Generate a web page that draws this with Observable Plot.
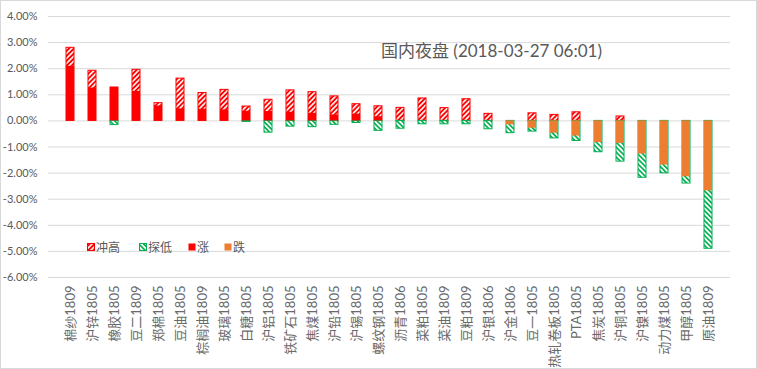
<!DOCTYPE html>
<html>
<head>
<meta charset="utf-8">
<script src="https://cdn.jsdelivr.net/npm/d3@7"></script>
<script src="https://cdn.jsdelivr.net/npm/@observablehq/plot@0.6"></script>
<style>
  html, body { margin: 0; padding: 0; background: #fff; }
  #wrap { position: relative; width: 757px; height: 369px; overflow: hidden; font-family: Lato, "Noto Sans CJK SC", sans-serif; }
  #frame { position: absolute; left: 0; top: 0; width: 755px; height: 367px; border: 1px solid #d9d9d9; pointer-events: none; }
  #chart { position: absolute; left: 0; top: 0; }
  #title { position: absolute; left: 381px; top: 37px; font-size: 17px; color: #595959; white-space: nowrap; }
  #legend { position: absolute; left: 87px; top: 238px; font-size: 12px; color: #595959; white-space: nowrap; display: flex; align-items: center; }
  #legend span.item { display: inline-flex; align-items: center; }
  #legend svg { margin-right: 1px; }
</style>
</head>
<body>
<div id="wrap">
  <div id="chart"></div>
  <div id="title">国内夜盘 (2018-03-27 06:01)</div>
  <div id="legend"></div>
  <div id="frame"></div>
</div>
<script>
// Categories
const names = ["棉纱1809","沪锌1805","橡胶1805","豆二1809","郑棉1805","豆油1805","棕榈油1809","玻璃1805","白糖1805","沪铝1805",
  "铁矿石1805","焦煤1805","沪铅1805","沪锡1805","螺纹钢1805","沥青1806","菜粕1805","菜油1809","豆粕1809","沪银1806",
  "沪金1806","豆一1805","热轧卷板1805","PTA1805","焦炭1805","沪铜1805","沪镍1805","动力煤1805","甲醇1805","原油1809"];
// 冲高 (intraday high, %)
const highs = [2.80,1.92,1.28,1.96,0.68,1.62,1.07,1.19,0.55,0.81,
  1.17,1.10,0.94,0.64,0.56,0.50,0.86,0.49,0.83,0.27,
  0,0.29,0.23,0.33,0,0.17,0,0,0,0];
// 收盘涨跌 (close change, %)
const closes = [2.09,1.26,1.28,1.13,0.57,0.46,0.45,0.42,0.37,0.36,
  0.33,0.29,0.23,0.26,0.16,0,0,0,0,0,
  -0.15,-0.28,-0.47,-0.58,-0.83,-0.86,-1.27,-1.69,-2.14,-2.68];
// 探低 (intraday low, %)
const lows = [0,0,-0.16,0,0,0,0,0,-0.04,-0.45,
  -0.22,-0.24,-0.15,-0.08,-0.38,-0.30,-0.13,-0.13,-0.13,-0.32,
  -0.47,-0.41,-0.67,-0.77,-1.20,-1.56,-2.18,-2.01,-2.40,-4.90];
// Y tick values
const yTicks = [4,3,2,1,0,-1,-2,-3,-4,-5,-6];
// Legend labels
const legendLabels = ["冲高","探低","涨","跌"];

const RED = "#ff0000", GREEN = "#00b050", ORANGE = "#ed7d31", GRID = "#d9d9d9", TEXT = "#595959";

const data = names.map((name, i) => ({name, high: highs[i], close: closes[i], low: lows[i]}));

const plot = Plot.plot({
  width: 757,
  height: 369,
  marginLeft: 48,
  marginRight: 27,
  marginTop: 16,
  marginBottom: 92,
  style: {color: TEXT, background: "transparent", fontFamily: 'Lato, "Noto Sans CJK SC", sans-serif'},
  x: {type: "band", domain: names, padding: 0.63, label: null},
  y: {domain: [-6, 4], label: null},
  marks: [
    Plot.ruleY(yTicks, {stroke: GRID, strokeWidth: 1}),
    Plot.axisY(yTicks, {tickSize: 0, tickPadding: 11, fontSize: 11, tickFormat: d => d.toFixed(2) + "%", label: null}),
    Plot.axisX({tickSize: 0, tickPadding: 8, tickRotate: -90, fontSize: 13, fill: "#6a6a6a", label: null}),
    Plot.rectY(data.filter(d => d.high > 0), {x: "name", y1: 0, y2: "high", fill: "url(#hatchRed)", stroke: RED, strokeWidth: 1}),
    Plot.rectY(data.filter(d => d.low < 0), {x: "name", y1: 0, y2: "low", fill: "url(#hatchGreen)", stroke: GREEN, strokeWidth: 1}),
    Plot.rectY(data.filter(d => d.close > 0), {x: "name", y1: 0, y2: "close", fill: RED}),
    Plot.rectY(data.filter(d => d.close < 0), {x: "name", y1: 0, y2: "close", fill: ORANGE})
  ]
});

const defsHTML = `
  <pattern id="hatchRed" patternUnits="userSpaceOnUse" width="3.5" height="3.5" patternTransform="rotate(45)">
    <rect width="3.5" height="3.5" fill="${RED}"/>
    <rect x="0" width="1.6" height="3.5" fill="#ffffff"/>
  </pattern>
  <pattern id="hatchGreen" patternUnits="userSpaceOnUse" width="3.5" height="3.5" patternTransform="rotate(-45)">
    <rect width="3.5" height="3.5" fill="${GREEN}"/>
    <rect x="0" width="1.8" height="3.5" fill="#ffffff"/>
  </pattern>`;
const defs = document.createElementNS("http://www.w3.org/2000/svg", "defs");
defs.innerHTML = defsHTML;
plot.insertBefore(defs, plot.firstChild);
document.getElementById("chart").appendChild(plot);

// Legend
const legendStyles = [
  {fill: "url(#hatchRed)", stroke: RED},
  {fill: "url(#hatchGreen)", stroke: GREEN},
  {fill: RED, stroke: "none"},
  {fill: ORANGE, stroke: "none"}
];
const legend = document.getElementById("legend");
const gaps = [19, 16, 15, 0];
legendLabels.forEach((lab, i) => {
  const s = legendStyles[i];
  const item = document.createElement("span");
  item.className = "item";
  item.style.marginRight = gaps[i] + "px";
  item.innerHTML = `<svg width="8" height="8"><rect x="0.5" y="0.5" width="7" height="7" fill="${s.fill}" stroke="${s.stroke}"/></svg><span>${lab}</span>`;
  legend.appendChild(item);
});
</script>
</body>
</html>
